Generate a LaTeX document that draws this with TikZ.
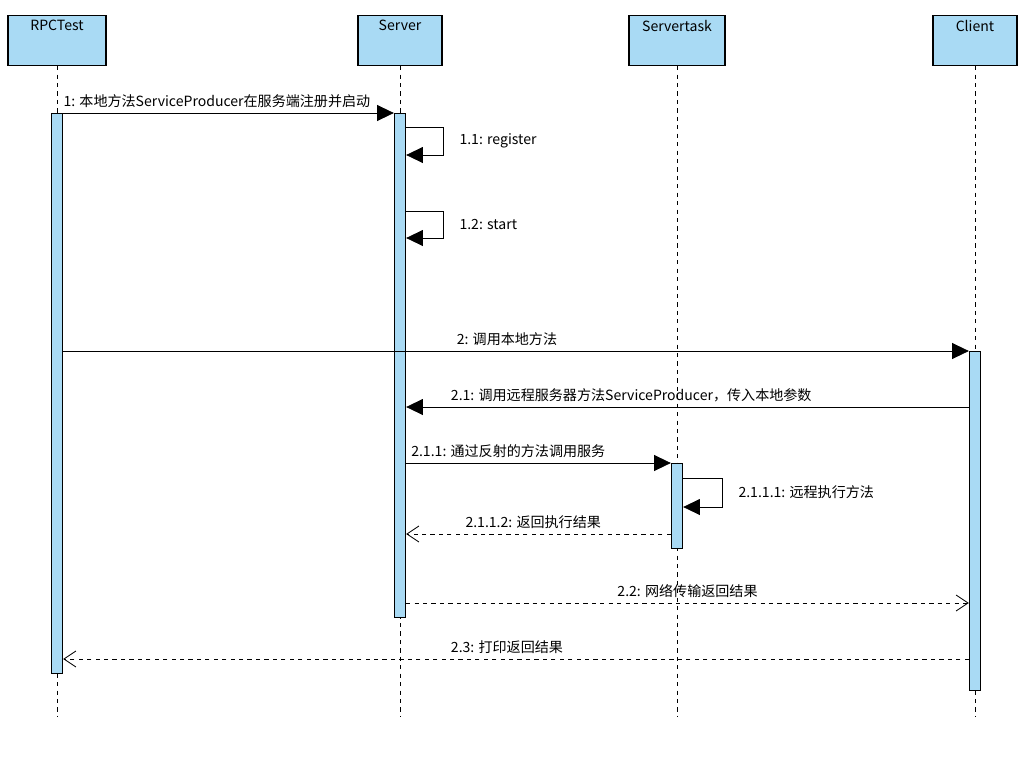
\documentclass[tikz,border=0pt]{standalone}
\usepackage{fontspec}
\setmainfont{Noto Sans CJK SC}
\usetikzlibrary{positioning,arrows.meta,calc}
\definecolor{lifeBlue}{HTML}{A9DAF4}

\begin{document}
\begin{tikzpicture}[x=0.025cm,y=-0.025cm,thick]
    \normalsize

    % Styles
    \tikzstyle{head}=[rectangle, draw, fill=lifeBlue, anchor=north, minimum height=1.25cm, inner sep=2pt]
    \tikzstyle{act}=[rectangle, draw, fill=lifeBlue, anchor=north, minimum width=0.28cm, inner sep=0pt]
    \tikzstyle{life}=[dashed, semithick]
    \tikzstyle{call}=[semithick, -{Triangle[length=0.42cm,width=0.4cm]}]
    \tikzstyle{reply}=[semithick, dashed, -{Straight Barb[length=0.3cm,width=0.4cm]}]

    \useasboundingbox (0,0) rectangle (1036,756);

    % Heads
    \node[head, minimum width=2.45cm] (rpc) at (57,15) {};
    \node[head, minimum width=2.1cm] (srv) at (400,15) {};
    \node[head, minimum width=2.4cm] (task) at (677,15) {};
    \node[head, minimum width=2.1cm] (cli) at (975,15) {};
    \node[below=0pt of rpc.north] (rpcName) {RPCTest};
    \node[below=0pt of srv.north] (srvName) {Server};
    \node[below=0pt of task.north] (taskName) {Servertask};
    \node[below=0pt of cli.north] (cliName) {Client};

    % Lifelines
    \coordinate (end) at (0,716);
    \foreach \p in {rpc,srv,task,cli}
        \draw[life] (\p.south) -- (\p.south |- end);

    % Activations
    \node[act, minimum height=14cm] (aRpc) at (57,113) {};
    \node[act, minimum height=12.6cm] (aSrv) at (400,113) {};
    \node[act, minimum height=2.125cm] (aTask) at (677,463) {};
    \node[act, minimum height=8.475cm] (aCli) at (975,351) {};

    % Message rows
    \coordinate (m1) at (0,113);
    \coordinate (m11) at (0,127);
    \coordinate (m12) at (0,211);
    \coordinate (m2) at (0,351);
    \coordinate (m21) at (0,407);
    \coordinate (m211) at (0,463);
    \coordinate (m2111) at (0,478);
    \coordinate (m2112) at (0,534);
    \coordinate (m22) at (0,603);
    \coordinate (m23) at (0,659);

    % Messages
    \draw[call] (aRpc.east |- m1) -- node[above right, pos=0, inner xsep=0pt] {1: 本地方法ServiceProducer在服务端注册并启动} (aSrv.west |- m1);
    \draw[call] (aSrv.east |- m11) -- ++(37,0) -- node[right, xshift=8pt] {1.1: register} ++(0,28) -- ++(-37,0);
    \draw[call] (aSrv.east |- m12) -- ++(37,0) -- node[right, xshift=8pt] {1.2: start} ++(0,27) -- ++(-37,0);
    \draw[call] (aRpc.east |- m2) -- node[above, pos=0.49] {2: 调用本地方法} (aCli.west |- m2);
    \draw[call] (aCli.west |- m21) -- node[above, pos=0.6] {2.1: 调用远程服务器方法ServiceProducer，传入本地参数} (aSrv.east |- m21);
    \draw[call] (aSrv.east |- m211) -- node[above right, pos=0] {2.1.1: 通过反射的方法调用服务} (aTask.west |- m211);
    \draw[call] (aTask.east |- m2111) -- ++(39,0) -- node[right, xshift=8pt] {2.1.1.1: 远程执行方法} ++(0,29) -- ++(-39,0);
    \draw[reply] (aTask.west |- m2112) -- node[above, pos=0.52] {2.1.1.2: 返回执行结果} (aSrv.east |- m2112);
    \draw[reply] (aSrv.east |- m22) -- node[above, pos=0.5] {2.2: 网络传输返回结果} (aCli.west |- m22);
    \draw[reply] (aCli.west |- m23) -- node[above, pos=0.51] {2.3: 打印返回结果} (aRpc.east |- m23);
\end{tikzpicture}
\end{document}
